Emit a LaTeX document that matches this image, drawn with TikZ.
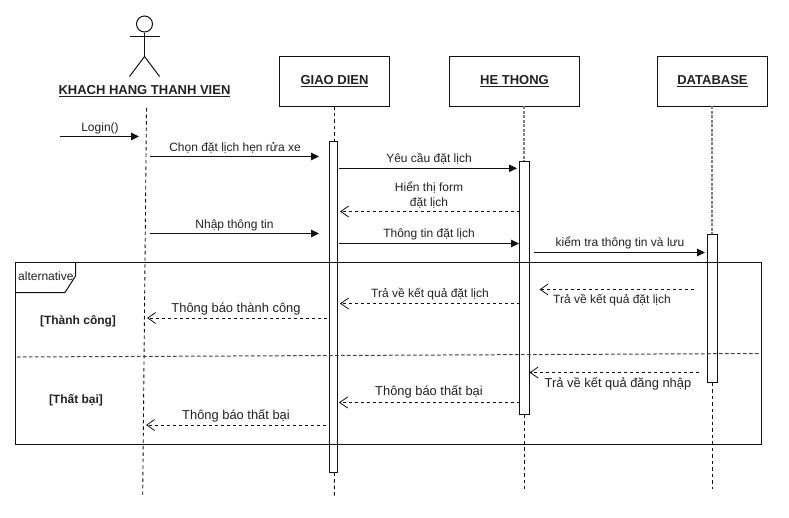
\documentclass[tikz,border=0pt]{standalone}
\usepackage{fontspec}
\setmainfont{Liberation Sans}
\usetikzlibrary{arrows.meta}
\definecolor{ink}{HTML}{111111}
\definecolor{txt}{HTML}{222222}
\tikzset{
  objbox/.style={draw=ink,line width=1pt,fill=white,minimum width=#1,minimum height=50pt,inner sep=0pt,font=\fontsize{13}{15}\selectfont\bfseries,text=txt},
  actbox/.style={draw=ink,line width=1pt,fill=white,minimum width=#1,inner sep=0pt},
  life/.style={draw=ink,line width=.9pt,dash pattern=on 3.5pt off 3pt},
  lifegray/.style={draw=black!50,line width=1.1pt,dash pattern=on 3pt off 1.5pt},
  msg/.style={draw=ink,line width=1pt,-{Triangle[length=8pt,width=7.5pt]}},
  ret/.style={draw=ink,line width=.9pt,dash pattern=on 3pt off 3pt,-{Straight Barb[length=8pt,width=11pt,line width=.8pt]}},
  lab/.style={anchor=base,inner sep=0pt,text=txt,font=\fontsize{12}{14}\selectfont},
  labbig/.style={anchor=base,inner sep=0pt,text=txt,font=\fontsize{12.9}{14}\selectfont},
  guard/.style={anchor=base,inner sep=0pt,text=txt,font=\fontsize{12}{14}\selectfont\bfseries},
  actorline/.style={draw=ink,line width=1pt},
}
\begin{document}
\begin{tikzpicture}[x=1pt,y=-1pt]
\useasboundingbox (0,0) rectangle (789,517);
\fill[white] (0,0) rectangle (789,517);
% actor
\node (head) [circle,draw=ink,line width=1pt,minimum size=16pt,inner sep=0pt] at (144.5,24) {};
\coordinate (hip) at (144.5,56.5);
\coordinate (armL) at (129.5,36);
\coordinate (armR) at (159.5,36);
\coordinate (legL) at (129.5,76.5);
\coordinate (legR) at (159.5,76.5);
\draw[actorline] (head.south) -- (hip);
\draw[actorline] (armL) -- (armR);
\draw[actorline] (legL) -- (hip) -- (legR);
\node (actor) [anchor=base,inner sep=0pt,text=txt,font=\fontsize{13}{15}\selectfont\bfseries] at (144.5,94.5) {\underline{KHACH HANG THANH VIEN}};
% objects
\node (giao) [objbox=110pt] at (334.5,81.25) {\underline{GIAO DIEN}};
\node (he) [objbox=130pt] at (514.5,81.25) {\underline{HE THONG}};
\node (db) [objbox=110pt] at (712.5,81.25) {\underline{DATABASE}};
% lifeline ends
\coordinate (actTop) at (146.5,108);
\coordinate (actEnd) at (142.7,495.5);
\coordinate (giaoEnd) at (334.3,496);
\coordinate (heEnd) at (524.5,489);
\coordinate (dbEnd) at (712.5,489);
% activations
\node (agiao) [actbox=8pt,minimum height=331.5pt] at (333.5,306.75) {};
\node (ahe) [actbox=10pt,minimum height=253pt] at (524.5,288) {};
\node (adb) [actbox=10pt,minimum height=148.5pt] at (712.5,308.25) {};
% lifelines
\draw[life] (actTop) -- (actEnd);
\draw[life] (334.5,106) -- (334.5,141);
\draw[life] (334.5,472.5) -- (giaoEnd);
\draw[lifegray] (524,106) -- (524,161);
\draw[life] (524.5,414.5) -- (heEnd);
\draw[lifegray] (712,106) -- (712,234);
\draw[life] (712.5,382.5) -- (dbEnd);
% frame
\node (frame) [draw=ink,line width=1pt,minimum width=746pt,minimum height=182pt,inner sep=0pt] at (388.5,353.5) {};
\coordinate (tagA) at (15.5,292.5);
\coordinate (tagB) at (65,292.5);
\coordinate (tagC) at (75.5,276);
\coordinate (tagD) at (75.5,262.5);
\draw[draw=ink,line width=1pt] (tagA) -- (tagB) -- (tagC) -- (tagD);
\node (alt) [anchor=base west,inner sep=0pt,text=txt,font=\fontsize{12}{14}\selectfont] at (18,280.7) {alternative};
\coordinate (divL) at (17,357);
\coordinate (divR) at (760,353.5);
\draw[draw=black!75,line width=1pt,dash pattern=on 3.5pt off 2.5pt] (divL) -- (divR);
\node (g1) [guard] at (78,324) {[Thành công]};
\node (g2) [guard] at (76,403) {[Thất bại]};
% message ends
\coordinate (m0a) at (59.5,136.5); \coordinate (m0b) at (139,136.5);
\coordinate (m1a) at (149.5,156.5); \coordinate (m1b) at (319,156.5);
\coordinate (m2a) at (339,168.3); \coordinate (m2b) at (517,168.3);
\coordinate (m3a) at (519.5,211.5); \coordinate (m3b) at (340,211.5);
\coordinate (m4a) at (149.5,233.5); \coordinate (m4b) at (319,233.5);
\coordinate (m5a) at (339,243.5); \coordinate (m5b) at (519,243.5);
\coordinate (m6a) at (534,252.5); \coordinate (m6b) at (705,252.5);
\coordinate (m7a) at (694,289.5); \coordinate (m7b) at (539.5,289.5);
\coordinate (m8a) at (519.5,303.5); \coordinate (m8b) at (340,303.5);
\coordinate (m9a) at (327,318); \coordinate (m9b) at (147,318);
\coordinate (m10a) at (699,372.5); \coordinate (m10b) at (529.5,372.5);
\coordinate (m11a) at (519.5,402.5); \coordinate (m11b) at (339,402.5);
\coordinate (m12a) at (325.5,425); \coordinate (m12b) at (146,425);
\draw[msg] (m0a) -- (m0b);
\draw[msg] (m1a) -- (m1b);
\draw[msg] (m2a) -- (m2b);
\draw[ret] (m3a) -- (m3b);
\draw[msg] (m4a) -- (m4b);
\draw[msg] (m5a) -- (m5b);
\draw[msg] (m6a) -- (m6b);
\draw[ret] (m7a) -- (m7b);
\draw[ret] (m8a) -- (m8b);
\draw[ret] (m9a) -- (m9b);
\draw[ret] (m10a) -- (m10b);
\draw[ret] (m11a) -- (m11b);
\draw[ret] (m12a) -- (m12b);
% labels
\node (l0) [lab] at (100,131) {Login()};
\node (l1) [lab] at (235,151) {Chọn đặt lịch hẹn rửa xe};
\node (l2) [lab] at (429,162.7) {Yêu cầu đặt lịch};
\node (l3) [lab] at (429,191) {Hiển thị form};
\node (l3b) [lab] at (429,206) {đặt lịch};
\node (l4) [lab] at (234.5,228) {Nhập thông tin};
\node (l5) [lab] at (429,237.7) {Thông tin đặt lịch};
\node (l6) [lab] at (620,246.7) {kiểm tra thông tin và lưu};
\node (l7) [lab] at (612,303) {Trả về kết quả đặt lịch};
\node (l8) [lab] at (430,297.7) {Trả về kết quả đặt lịch};
\node (l9) [labbig] at (236,312.3) {Thông báo thành công};
\node (l10) [labbig] at (618,387.3) {Trả về kết quả đăng nhập};
\node (l11) [labbig] at (429,395.7) {Thông báo thất bại};
\node (l12) [labbig] at (236,419) {Thông báo thất bại};
\end{tikzpicture}
\end{document}
